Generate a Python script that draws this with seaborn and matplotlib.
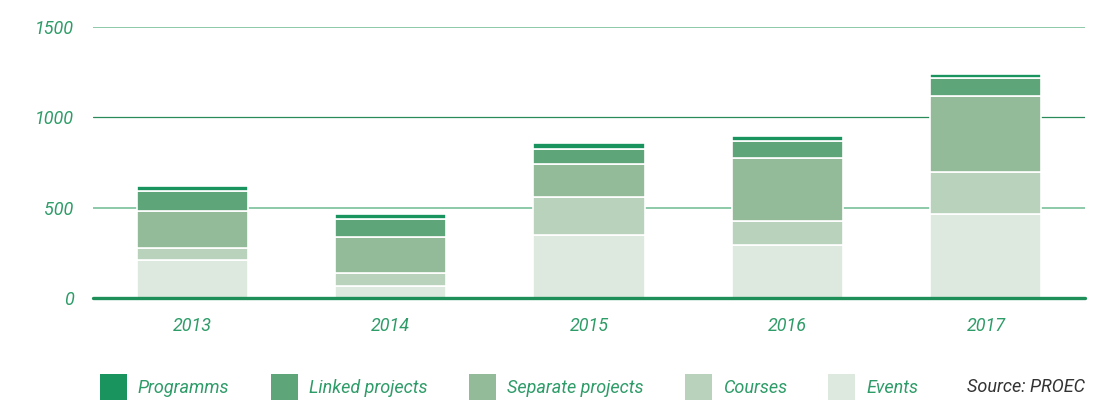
import numpy as np
import pandas as pd
import matplotlib.pyplot as plt
from matplotlib.patches import Patch
import seaborn as sns

sns.set_theme(style="white")
plt.rcParams['font.family'] = ['Roboto', 'DejaVu Sans']

# data
years = ["2013", "2014", "2015", "2016", "2017"]
events = [212, 65, 348, 291, 464]
courses = [64, 75, 212, 136, 234]
separate_projects = [205, 197, 180, 348, 422]
linked_projects = [109, 99, 87, 92, 95]
programms = [29, 30, 31, 32, 26]

# stacking order bottom -> top
layers = [
    ("Events", events, "#dde8df"),
    ("Courses", courses, "#b8d2bb"),
    ("Separate projects", separate_projects, "#93bb99"),
    ("Linked projects", linked_projects, "#5fa57a"),
    ("Programms", programms, "#1a945f"),
]

text_green = "#2e9c68"

fig = plt.figure(figsize=(11.12, 4.01), dpi=100)
ax = fig.add_axes([93 / 1112, 1 - 298 / 401, (1085 - 93) / 1112, (298 - 27) / 401])

# grid lines (behind bars)
ax.axhline(500, color="#8cc9a8", lw=1.4, zorder=0)
ax.axhline(1000, color="#2a8a5a", lw=0.9, zorder=0)
ax.axhline(1500, color="#8cc9a8", lw=1.4, zorder=0)

bottom = np.zeros(len(years))
for name, vals, col in layers:
    df = pd.DataFrame({"year": years, "value": vals})
    sns.barplot(data=df, x="year", y="value", bottom=bottom, color=col,
                width=0.56, edgecolor="white", linewidth=1.2, saturation=1,
                ax=ax, zorder=2)
    bottom = bottom + np.array(vals)

ax.axhline(0, color="#1f8f5a", lw=2.4, zorder=3, clip_on=False)

ax.set_xlim(-0.5, 4.5)
ax.set_ylim(0, 1500)
ax.set_yticks([0, 500, 1000, 1500])
ax.set_xlabel("")
ax.set_ylabel("")
for s in ax.spines.values():
    s.set_visible(False)
ax.tick_params(axis="both", length=0, labelsize=13, labelcolor=text_green)
ax.tick_params(axis="y", pad=14)
ax.tick_params(axis="x", pad=14)
for lab in ax.get_xticklabels() + ax.get_yticklabels():
    lab.set_fontstyle("italic")

handles = [Patch(facecolor=col, edgecolor="none", label=name)
           for name, vals, col in layers[::-1]]
leg = fig.legend(handles=handles, loc="center left", bbox_to_anchor=(100 / 1112, 0.035),
                 ncol=5, frameon=False, fontsize=13, handlelength=1.5, handleheight=1.9,
                 handletextpad=0.6, columnspacing=2.3, borderpad=0, borderaxespad=0)
for t in leg.get_texts():
    t.set_color(text_green)
    t.set_fontstyle("italic")

fig.text(1085 / 1112, 0.035, "Source: PROEC", ha="right", va="center",
         fontsize=13, fontstyle="italic", color="#333333")

fig.savefig("out.png", dpi=100)
